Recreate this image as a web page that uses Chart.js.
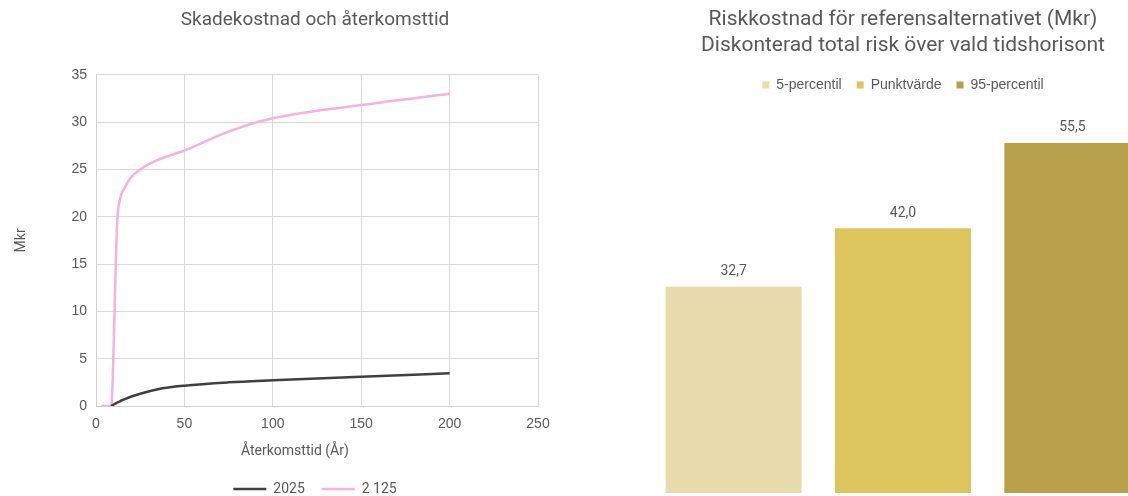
<!DOCTYPE html>
<html lang="sv">
<head>
<meta charset="utf-8">
<title>Skadekostnad och riskkostnad</title>
<script src="https://cdn.jsdelivr.net/npm/chart.js@4.4.1/dist/chart.umd.min.js"></script>
<style>
  html, body { margin: 0; padding: 0; width: 1128px; height: 496px; overflow: hidden; background: #ffffff; }
  #left  { position: absolute; left: 0;     top: 0; }
  #right { position: absolute; left: 649px; top: 0; }
</style>
</head>
<body>
<canvas id="left" width="630" height="506"></canvas>
<canvas id="right" width="508" height="496"></canvas>
<script>
// Skadekostnad (Mkr) per återkomsttid (år)
const returnPeriods = [3, 8.5, 12, 13.5, 16, 20, 25, 35, 50, 75, 100, 150, 200];
const cost2025 = [null, 0, 0.35, 0.5, 0.7, 1.0, 1.3, 1.78, 2.15, 2.5, 2.72, 3.1, 3.45];
const cost2125 = [0, 0, 19.5, 21.8, 23.0, 24.2, 25.0, 26.0, 27.0, 29.0, 30.4, 31.8, 33.0];
const seriesNames = ['2025', '2 125'];
const xTickValues = [0, 50, 100, 150, 200, 250];
const yTickValues = [0, 5, 10, 15, 20, 25, 30, 35];

// Riskkostnad för referensalternativet (Mkr)
const riskCategories = ['5-percentil', 'Punktvärde', '95-percentil'];
const riskValues = [32.7, 42.0, 55.5];
const barColors = ['#E9DCAC', '#DDC55D', '#B8A14A'];

const textColor = '#595959';
const gridColor = '#D9D9D9';
const condensed = 'Roboto, "DejaVu Sans", sans-serif';
const plain = '"Liberation Sans", Arial, sans-serif';

// Axis title under the x axis, set slightly left of the plot centre
const xAxisTitle = {
  id: 'xAxisTitle',
  afterDraw(chart) {
    const { ctx, chartArea } = chart;
    ctx.save();
    ctx.font = '14px ' + condensed;
    ctx.fillStyle = textColor;
    ctx.textAlign = 'center';
    ctx.textBaseline = 'middle';
    ctx.fillText('Återkomsttid (År)',
      chartArea.left + (chartArea.right - chartArea.left) * 0.45,
      chartArea.bottom + 45);
    ctx.restore();
  }
};

// Value above each bar, Swedish decimal comma
const valueLabels = {
  id: 'valueLabels',
  afterDatasetsDraw(chart) {
    const ctx = chart.ctx;
    const meta = chart.getDatasetMeta(0);
    ctx.save();
    ctx.font = '14px ' + condensed;
    ctx.fillStyle = textColor;
    ctx.textAlign = 'center';
    ctx.textBaseline = 'middle';
    meta.data.forEach((bar, i) => {
      ctx.fillText(riskValues[i].toFixed(1).replace('.', ','), bar.x, bar.y - 15);
    });
    ctx.restore();
  }
};

new Chart(document.getElementById('left'), {
  type: 'line',
  data: {
    datasets: [
      {
        label: seriesNames[0],
        data: returnPeriods.map((x, i) => ({ x, y: cost2025[i] })),
        borderColor: '#404040',
        backgroundColor: '#404040',
        borderWidth: 2.5,
        pointRadius: 0,
        cubicInterpolationMode: 'monotone'
      },
      {
        label: seriesNames[1],
        data: returnPeriods.map((x, i) => ({ x, y: cost2125[i] })),
        borderColor: '#F5B2DE',
        backgroundColor: '#F5B2DE',
        borderWidth: 2.5,
        pointRadius: 0,
        cubicInterpolationMode: 'monotone'
      }
    ]
  },
  options: {
    responsive: false,
    animation: false,
    layout: { padding: 0 },
    plugins: {
      title: {
        display: true,
        text: 'Skadekostnad och återkomsttid',
        color: textColor,
        font: { family: condensed, size: 19, weight: 'normal' },
        padding: { top: 9, bottom: 43 }
      },
      legend: {
        position: 'bottom',
        labels: {
          usePointStyle: true,
          pointStyle: 'line',
          pointStyleWidth: 33,
          padding: 17,
          color: textColor,
          font: { family: condensed, size: 14 }
        }
      },
      tooltip: { enabled: false }
    },
    scales: {
      x: {
        type: 'linear',
        min: 0,
        max: 250,
        afterBuildTicks: s => { s.ticks = xTickValues.map(v => ({ value: v })); },
        afterFit: s => { s.height = 59; },
        grid: { color: gridColor, drawTicks: false },
        border: { color: '#D0D0D0' },
        ticks: { padding: 10, color: textColor, font: { family: plain, size: 14 } }
      },
      y: {
        min: 0,
        max: 35,
        afterBuildTicks: s => { s.ticks = yTickValues.map(v => ({ value: v })); },
        afterFit: s => { s.width = 96; },
        grid: { color: gridColor, drawTicks: false },
        border: { color: '#D0D0D0' },
        ticks: { padding: 9, color: textColor, font: { family: plain, size: 14 } },
        title: {
          display: true,
          text: 'Mkr',
          color: textColor,
          font: { family: condensed, size: 14 },
          padding: { top: 13, bottom: 0 }
        }
      },
      // empty margin on the right of the plot
      margin: {
        position: 'right',
        min: 0,
        max: 1,
        afterFit: s => { s.width = 92; },
        grid: { display: false, drawTicks: false },
        border: { display: false },
        ticks: { display: false }
      }
    }
  },
  plugins: [xAxisTitle]
});

new Chart(document.getElementById('right'), {
  type: 'bar',
  data: {
    labels: riskCategories,
    datasets: [{
      data: riskValues,
      backgroundColor: barColors,
      categoryPercentage: 1,
      barPercentage: 0.803
    }]
  },
  options: {
    responsive: false,
    animation: false,
    layout: { padding: { top: 0, bottom: 3, left: 0, right: 0 } },
    plugins: {
      title: {
        display: true,
        text: ['Riskkostnad för referensalternativet (Mkr)', 'Diskonterad total risk över vald tidshorisont'],
        color: textColor,
        font: { family: condensed, size: 21, weight: 'normal', lineHeight: 26 / 21 },
        padding: { top: 7, bottom: 4 }
      },
      legend: {
        position: 'top',
        labels: {
          boxWidth: 7,
          boxHeight: 7,
          padding: 15,
          color: textColor,
          font: { family: plain, size: 14 },
          generateLabels: () => riskCategories.map((c, i) => ({
            text: c,
            fillStyle: barColors[i],
            strokeStyle: barColors[i],
            lineWidth: 0,
            hidden: false,
            index: i,
            fontColor: textColor
          }))
        }
      },
      tooltip: { enabled: false }
    },
    scales: {
      x: { display: false },
      y: { display: false, min: 0, max: 62 }
    }
  },
  plugins: [valueLabels]
});
</script>
</body>
</html>
